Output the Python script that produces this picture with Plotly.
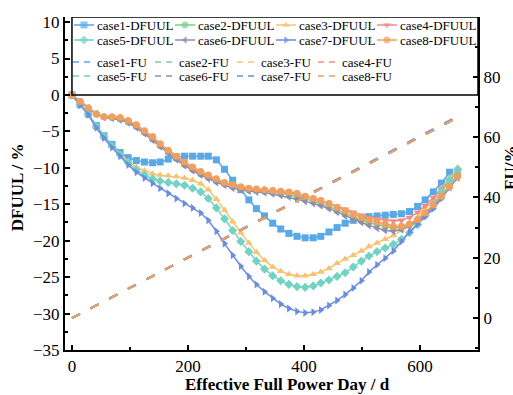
import plotly.graph_objects as go

# ---------------- data ----------------
days = [0, 14, 28, 42, 55, 69, 83, 97, 111, 125, 139, 152, 166, 180, 194, 208, 222,
        235, 249, 263, 277, 291, 305, 318, 332, 346, 360, 374, 388, 402, 416, 429,
        443, 457, 471, 485, 499, 512, 526, 540, 554, 568, 582, 596, 609, 623, 637,
        651, 665]

case1 = [0, -1.3, -2.6, -4.2, -5.6, -6.8, -7.9, -8.6, -9.0, -9.2, -9.3, -9.2, -8.8,
         -8.5, -8.4, -8.4, -8.4, -8.4, -8.9, -10.2, -11.7, -13.0, -14.4, -15.6, -16.6,
         -17.6, -18.4, -19.0, -19.4, -19.6, -19.6, -19.4, -18.8, -18.2, -17.6, -17.2,
         -16.9, -16.7, -16.6, -16.5, -16.4, -16.3, -16.0, -15.3, -14.4, -13.3, -12.1,
         -10.6, None]
case2 = [0, -0.9, -1.8, -2.6, -3.0, -3.1, -3.3, -3.7, -4.3, -5.1, -6.0, -6.9, -7.8,
         -8.7, -9.5, -10.2, -10.8, -11.3, -11.8, -12.2, -12.5, -12.8, -13.0, -13.1,
         -13.2, -13.3, -13.5, -13.7, -13.9, -14.2, -14.6, -14.9, -15.3, -15.8, -16.3,
         -16.8, -17.2, -17.5, -17.8, -18.1, -18.3, -18.2, -17.8, -17.1, -16.2, -15.1,
         -13.8, -12.4, -10.9]
case3 = [0, -1.3, -2.6, -4.3, -5.7, -7.0, -8.1, -9.1, -9.9, -10.4, -10.8, -11.0, -11.1,
         -11.2, -11.4, -11.7, -12.2, -13.0, -14.3, -15.8, -17.4, -18.9, -20.3, -21.6,
         -22.7, -23.6, -24.2, -24.6, -24.8, -24.8, -24.6, -24.3, -23.8, -23.1, -22.5,
         -22.0, -21.4, -20.8, -20.3, -19.8, -19.3, -18.6, -17.8, -16.8, -15.6, -14.3,
         -12.8, -11.4, -10.0]
case4 = [0, -0.9, -1.8, -2.6, -3.0, -3.0, -3.2, -3.6, -4.2, -5.0, -5.9, -6.8, -7.7,
         -8.6, -9.4, -10.1, -10.7, -11.2, -11.7, -12.1, -12.4, -12.7, -12.9, -13.0,
         -13.1, -13.2, -13.3, -13.4, -13.6, -13.9, -14.2, -14.5, -14.9, -15.3, -15.7,
         -16.1, -16.5, -16.8, -17.0, -17.2, -17.3, -17.2, -16.8, -16.1, -15.2, -14.1,
         -12.9, -11.7, -10.6]
case5 = [0, -1.3, -2.6, -4.3, -5.7, -7.0, -8.2, -9.3, -10.3, -11.0, -11.5, -11.8, -12.0,
         -12.2, -12.4, -12.8, -13.3, -14.2, -15.5, -17.0, -18.6, -20.1, -21.5, -22.8,
         -23.9, -24.8, -25.5, -26.0, -26.3, -26.4, -26.2, -25.8, -25.4, -24.9, -24.4,
         -23.6, -22.8, -22.1, -21.5, -21.0, -20.5, -19.8, -18.9, -17.8, -16.5, -15.0,
         -13.3, -11.7, -10.2]
case6 = [0, -0.9, -1.8, -2.6, -3.1, -3.2, -3.4, -3.8, -4.5, -5.3, -6.2, -7.1, -8.0,
         -8.9, -9.7, -10.4, -11.0, -11.5, -12.0, -12.4, -12.8, -13.0, -13.2, -13.3,
         -13.4, -13.6, -13.8, -14.0, -14.3, -14.6, -14.9, -15.2, -15.6, -16.1, -16.6,
         -17.1, -17.5, -17.9, -18.3, -18.6, -18.7, -18.5, -18.0, -17.3, -16.4, -15.3,
         -14.0, -12.7, -11.4]
case7 = [0, -1.4, -2.7, -4.5, -5.9, -7.2, -8.4, -9.6, -10.6, -11.4, -12.1, -12.8, -13.5,
         -14.2, -14.9, -15.5, -16.2, -17.2, -18.7, -20.4, -22.0, -23.5, -24.9, -26.0,
         -27.0, -27.9, -28.7, -29.3, -29.7, -29.9, -29.8, -29.5, -28.9, -28.2, -27.4,
         -26.5, -25.5, -24.3, -23.3, -22.4, -21.4, -20.1, -18.8, -17.7, -16.7, -15.6,
         -14.2, -12.7, -11.2]
case8 = [0, -0.9, -1.8, -2.6, -3.0, -3.0, -3.1, -3.5, -4.1, -4.9, -5.7, -6.7, -7.6,
         -8.4, -9.2, -9.9, -10.5, -11.0, -11.5, -12.0, -12.3, -12.6, -12.8, -12.9,
         -13.0, -13.1, -13.2, -13.3, -13.5, -13.9, -14.2, -14.5, -14.9, -15.4, -15.9,
         -16.4, -16.8, -17.1, -17.4, -17.7, -18.0, -18.0, -17.7, -17.1, -16.2, -15.1,
         -13.9, -12.6, -11.2]

fu_days = [0, 100, 200, 300, 400, 500, 600, 665]
fu1 = [0, 10.0, 20.0, 30.0, 40.0, 50.0, 60.0, 66.5]
fu2 = [0, 10.0, 20.0, 30.0, 40.0, 50.0, 60.0, 66.5]
fu3 = [0, 10.0, 20.0, 30.0, 40.0, 50.0, 60.0, 66.5]
fu4 = [0, 10.0, 20.0, 30.0, 40.0, 50.0, 60.0, 66.5]
fu5 = [0, 10.0, 20.0, 30.0, 40.0, 50.0, 60.0, 66.5]
fu6 = [0, 10.0, 20.0, 30.0, 40.0, 50.0, 60.0, 66.5]
fu7 = [0, 10.1, 20.2, 30.3, 40.4, 50.5, 60.6, 66.9]
fu8 = [0, 10.0, 20.0, 30.0, 40.0, 50.0, 60.0, 66.5]

names = ["case1", "case2", "case3", "case4", "case5", "case6", "case7", "case8"]
dfuul = [case1, case2, case3, case4, case5, case6, case7, case8]
fus = [fu1, fu2, fu3, fu4, fu5, fu6, fu7, fu8]

colors = ["#58A9E6", "#7FCE8E", "#F7C371", "#F08C84", "#72D3C3", "#8E8DAE", "#6B8DE0", "#F19F5E"]
symbols = ["square", "circle", "triangle-up", "triangle-down", "diamond",
           "triangle-left", "triangle-right", "circle"]

X_RANGE = [-12, 700]
Y_RANGE = [-35, 10.7]
Y2_RANGE = [-10.6, 99.8]
SERIF = "Liberation Serif"

# figure geometry (px)
W, H = 513, 395
ML, MR, MT, MB = 65, 35, 17, 45
PX0, PX1 = ML, W - MR
PY_TOP, PY_BOT = MT, H - MB

fig = go.Figure()

for nm, fu, c in zip(names, fus, colors):
    fig.add_trace(go.Scatter(
        x=fu_days, y=fu, yaxis="y2", mode="lines", name=nm + "-FU", showlegend=False,
        line=dict(color=c, width=2, dash="9px,12px"), hoverinfo="skip"))

for nm, v, c, s in zip(names, dfuul, colors, symbols):
    fig.add_trace(go.Scatter(
        x=days, y=v, mode="lines+markers", name=nm + "-DFUUL", showlegend=False,
        line=dict(color=c, width=1.5),
        marker=dict(symbol=s, size=7, color=c, line=dict(width=0))))

# ---------- legend drawn on a hidden pixel-like overlay axis ----------
LEG_FONT = dict(family=SERIF, size=13, color="black")
dfuul_rows = [25, 40]
fu_rows = [62, 76]
dfuul_col_x = [74, 175, 276, 377]
fu_col_x = [73, 155, 237, 318]
for i, (nm, c, s) in enumerate(zip(names, colors, symbols)):
    row, col = divmod(i, 4)
    x0 = dfuul_col_x[col]
    y0 = dfuul_rows[row]
    fig.add_trace(go.Scatter(
        x=[x0, x0 + 10, x0 + 20], y=[y0, y0, y0], xaxis="x3", yaxis="y3",
        mode="lines+markers", showlegend=False, hoverinfo="skip",
        line=dict(color=c, width=1.5),
        marker=dict(symbol=s, size=[0, 7, 0], color=c, line=dict(width=0))))
    fig.add_annotation(text=nm + "-DFUUL", xref="x3", yref="y3", x=x0 + 21, y=y0,
                       xanchor="left", yanchor="middle", showarrow=False, font=LEG_FONT)
    x1 = fu_col_x[col]
    y1 = fu_rows[row]
    fig.add_trace(go.Scatter(
        x=[x1, x1 + 18], y=[y1, y1], xaxis="x3", yaxis="y3",
        mode="lines", showlegend=False, hoverinfo="skip",
        line=dict(color=c, width=1.5, dash="6px,5px")))
    fig.add_annotation(text=nm + "-FU", xref="x3", yref="y3", x=x1 + 22, y=y1,
                       xanchor="left", yanchor="middle", showarrow=False, font=LEG_FONT)

tickfont = dict(family=SERIF, size=17, color="black")
axis_common = dict(showgrid=False, zeroline=False, showline=True, linecolor="black",
                   linewidth=2, ticks="inside", ticklen=5, tickwidth=1.5,
                   tickcolor="black", tickfont=tickfont)
minor_common = dict(ticks="inside", ticklen=3, tickcolor="black", tickwidth=1.5)

fig.update_layout(
    width=W, height=H,
    margin=dict(l=ML, r=MR, t=MT, b=MB),
    paper_bgcolor="white", plot_bgcolor="white",
    showlegend=False,
    xaxis=dict(range=X_RANGE, dtick=200, tick0=0, minor=dict(dtick=100, **minor_common),
               **axis_common),
    yaxis=dict(range=Y_RANGE, dtick=5, tick0=0, minor=dict(dtick=2.5, **minor_common),
               **axis_common),
    yaxis2=dict(range=Y2_RANGE, dtick=20, tick0=0, overlaying="y", side="right",
                minor=dict(dtick=10, **minor_common), **axis_common),
    xaxis3=dict(range=[PX0, PX1], overlaying="x", anchor="y3", visible=False),
    yaxis3=dict(range=[PY_BOT, PY_TOP], overlaying="y", anchor="x3", visible=False),
)

# legend frame (bottom edge on the zero line of the left axis)
fig.add_shape(type="rect", xref="x", yref="y", x0=0, x1=X_RANGE[1], y0=0, y1=Y_RANGE[1],
              line=dict(color="black", width=1.5), fillcolor="rgba(0,0,0,0)", layer="above")

fig.add_annotation(text="<b>Effective Full Power Day / d</b>", xref="paper", yref="paper",
                   x=0.538, y=-0.104, showarrow=False, xanchor="center", yanchor="middle",
                   font=dict(family=SERIF, size=17, color="black"))
fig.add_annotation(text="<b>DFUUL / %</b>", xref="paper", yref="paper",
                   x=-0.116, y=0.489, showarrow=False, textangle=-90,
                   xanchor="center", yanchor="middle",
                   font=dict(family=SERIF, size=17, color="black"))
fig.add_annotation(text="<b>FU/%</b>", xref="paper", yref="paper",
                   x=1.08, y=0.547, showarrow=False, textangle=-90,
                   xanchor="center", yanchor="middle",
                   font=dict(family=SERIF, size=17, color="black"))

fig.write_html("out.html")
